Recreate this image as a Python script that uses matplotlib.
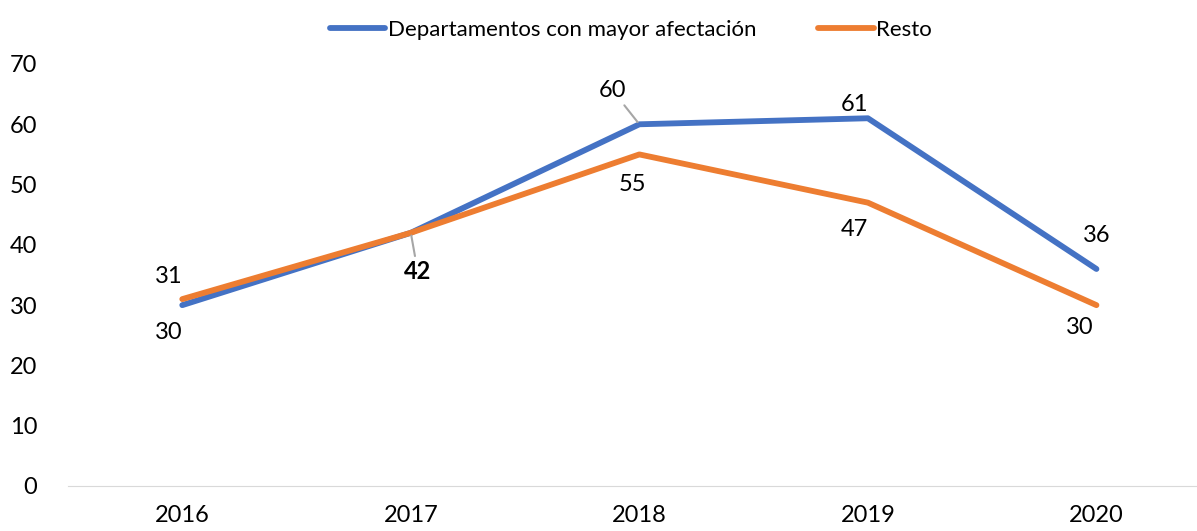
import matplotlib
matplotlib.use("Agg")
import matplotlib.pyplot as plt

plt.rcParams["font.family"] = ["Lato", "DejaVu Sans"]

YEARS = ["2016", "2017", "2018", "2019", "2020"]
MAYOR = [30, 42, 60, 61, 36]
RESTO = [31, 42, 55, 47, 30]
BLUE, ORANGE = "#4472C4", "#ED7D31"

fig = plt.figure(figsize=(11.97, 5.31), dpi=100)
ax = fig.add_axes([68 / 1197, 45 / 531, 1129 / 1197, 422 / 531])
x = range(len(YEARS))
ax.plot(x, MAYOR, color=BLUE, lw=4.2, label="Departamentos con mayor afectación",
        solid_capstyle="round")
ax.plot(x, RESTO, color=ORANGE, lw=4.2, label="Resto", solid_capstyle="round")

ax.set_xlim(-0.5, 4.44)
ax.set_ylim(0, 70)
ax.set_yticks(range(0, 71, 10))
ax.set_xticks(list(x))
ax.set_xticklabels(YEARS)
for s in ["top", "right", "left"]:
    ax.spines[s].set_visible(False)
ax.spines["bottom"].set_color("#d9d9d9")
ax.tick_params(length=0, labelsize=17, colors="black")
ax.tick_params(axis="y", pad=22)
ax.tick_params(axis="x", pad=14)

fs = 17
# data labels (offsets in points)
def lab(i, v, dx, dy, bold=False, leader=False):
    kw = dict(textcoords="offset points", ha="center", va="center", fontsize=fs,
              fontweight="bold" if bold else "normal")
    if leader:
        kw["arrowprops"] = dict(arrowstyle="-", color="#a6a6a6", lw=1.5, shrinkA=1, shrinkB=2)
    ax.annotate(str(v), (i, v), xytext=(dx, dy), **kw)

lab(0, MAYOR[0], -10, -20)
lab(0, RESTO[0], -10, 16)
lab(1, MAYOR[1], 5, -28, bold=True, leader=True)
lab(2, MAYOR[2], -19, 24, leader=True)
lab(2, RESTO[2], -5, -22)
lab(3, MAYOR[3], -10, 10)
lab(3, RESTO[3], -10, -19)
lab(4, MAYOR[4], 0, 24)
lab(4, RESTO[4], -12, -16)

fig.legend(loc="upper center", bbox_to_anchor=(0.527, 1.0), ncol=2, frameon=False,
           fontsize=16, handlelength=2.5, handletextpad=0.1, columnspacing=2.8)

fig.savefig("out.png", dpi=100)
